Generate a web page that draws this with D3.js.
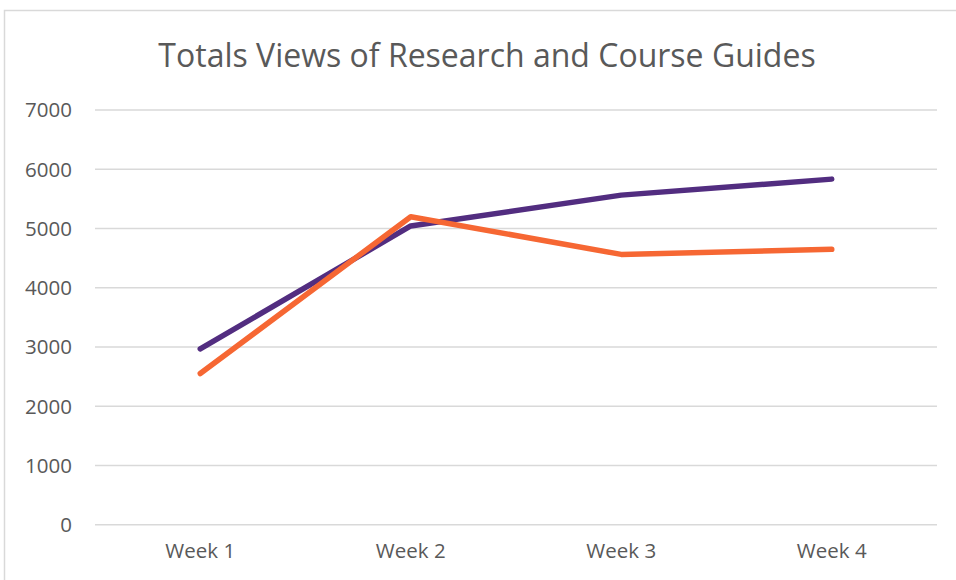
<!DOCTYPE html>
<html><head><meta charset="utf-8">
<script src="https://cdn.jsdelivr.net/npm/d3@7"></script>
<style>html,body{margin:0;padding:0;background:#fff;}svg{display:block;}</style>
</head><body>
<svg id="c" width="956" height="580"></svg>
<script>
const title = "Totals Views of Research and Course Guides";
const categories = ["Week 1", "Week 2", "Week 3", "Week 4"];
const purpleValues = [2960, 5035, 5555, 5825];
const orangeValues = [2545, 5190, 4555, 4640];
const yTicks = [0, 1000, 2000, 3000, 4000, 5000, 6000, 7000];
const seriesColors = ["#522D80", "#F66733"];

const svg = d3.select("#c");
const plot = {left: 95, right: 937, top: 109.5, bottom: 524.3};
const font = "'Open Sans', sans-serif";
const textColor = "#595959";

// chart border
svg.append("rect").attr("x", 4.5).attr("y", 10.5).attr("width", 1000).attr("height", 1000)
  .attr("fill", "none").attr("stroke", "#d9d9d9").attr("stroke-width", 1.5);

// title
svg.append("text").attr("x", 487).attr("y", 66.5).attr("text-anchor", "middle")
  .attr("font-family", font).attr("font-size", 32).attr("fill", textColor).text(title);

const x = d3.scaleBand().domain(categories).range([plot.left, plot.right]);
const y = d3.scaleLinear().domain([0, 7000]).range([plot.bottom, plot.top]);

const yAxis = d3.axisLeft(y).tickValues(yTicks).tickSize(-(plot.right - plot.left)).tickPadding(23).tickFormat(d3.format("d"));
const gy = svg.append("g").attr("transform", `translate(${plot.left},0)`).call(yAxis);
gy.select(".domain").remove();
gy.selectAll(".tick line").attr("stroke", "#d9d9d9").attr("stroke-width", 1.5);
gy.selectAll(".tick text").attr("font-family", font).attr("font-size", 20.5).attr("fill", textColor).attr("dy", "0.36em");

const xAxis = d3.axisBottom(x).tickSize(0).tickPadding(19);
const gx = svg.append("g").attr("transform", `translate(0,${plot.bottom})`).call(xAxis);
gx.select(".domain").remove();
gx.selectAll(".tick text").attr("font-family", font).attr("font-size", 20.5).attr("fill", textColor);

const line = d3.line().x((d, i) => x(categories[i]) + x.bandwidth() / 2).y(d => y(d));
[purpleValues, orangeValues].forEach((vals, k) => {
  svg.append("path").datum(vals).attr("d", line).attr("fill", "none")
    .attr("stroke", seriesColors[k]).attr("stroke-width", 5.5)
    .attr("stroke-linecap", "round").attr("stroke-linejoin", "round");
});
</script>
</body></html>
